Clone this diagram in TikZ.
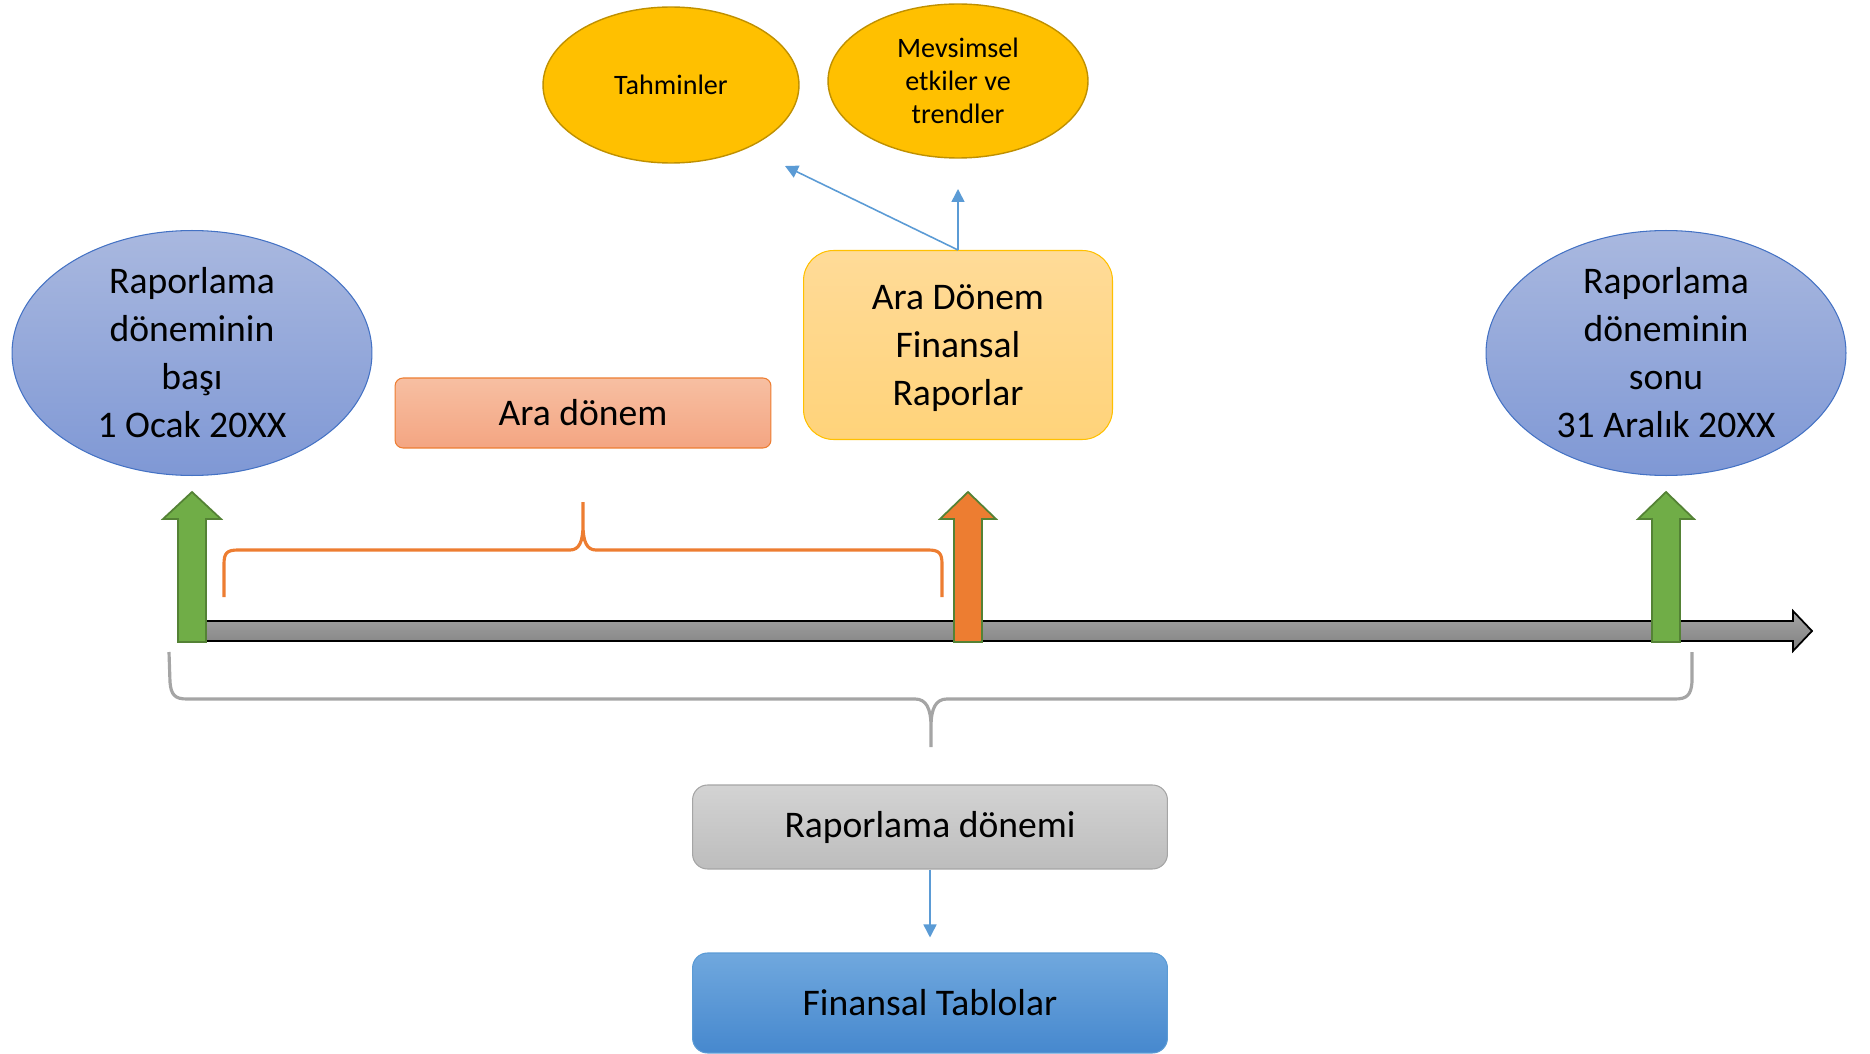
\documentclass[tikz,border=0pt]{standalone}
\usepackage{fontspec}
\setmainfont{Carlito}
\usepackage{tikz}
\usetikzlibrary{shapes.geometric,arrows.meta}

\definecolor{ovalblue}{HTML}{4472C4}
\definecolor{lineblue}{HTML}{5B9BD5}
\definecolor{gold}{HTML}{FFC000}
\definecolor{darkgold}{HTML}{BF9000}
\definecolor{peach}{HTML}{ED7D31}
\definecolor{leaf}{HTML}{70AD47}
\definecolor{darkleaf}{HTML}{548235}
\definecolor{bracegray}{HTML}{A5A5A5}

\begin{document}
\begin{tikzpicture}[x=0.02cm, y=-0.02cm,
                    bigoval/.style={ellipse, draw=ovalblue, line width=0.6pt, top color={rgb,255:red,169;green,184;blue,223}, bottom color={rgb,255:red,127;green,152;blue,213}, minimum width=7.2cm, minimum height=4.9cm, inner sep=0pt, align=center, font=\fontsize{21.4}{27.3}\selectfont},
                    smalloval/.style={ellipse, fill=gold, draw=darkgold, line width=0.8pt, minimum width=5.12cm, minimum height=3.12cm, inner sep=0pt, align=center, font=\fontsize{16}{18.8}\selectfont},
                    box/.style={rectangle, rounded corners, inner sep=0pt, align=center, line width=0.6pt, font=\fontsize{21.4}{27.3}\selectfont},
                    fleche/.style={draw=lineblue, line width=0.9pt, -{Triangle[length=0.26cm, width=0.26cm]}},
                    blockarrow/.style={line width=1pt, line join=miter},
                    brace/.style={line width=1.8pt, line join=round, line cap=butt}]

	\useasboundingbox (0,0) rectangle (1870,1054);

	\node[bigoval] (start) at (192,353) {Raporlama\\ döneminin\\ başı\\ 1 Ocak 20XX};

	\node[bigoval] (end) at (1666,353) {Raporlama\\ döneminin\\ sonu\\ 31 Aralık 20XX};

	\node[smalloval] (tahmin) at (671,85) {Tahminler};

	\node[smalloval, minimum width=5.2cm, minimum height=3.08cm] (mevsim) at (958,81) {Mevsimsel\\ etkiler ve\\ trendler};

	\node[box, draw=peach, top color={rgb,255:red,247;green,191;blue,162}, bottom color={rgb,255:red,244;green,165;blue,130}, rounded corners=0.16cm, minimum width=7.52cm, minimum height=1.4cm] (ara) at (583,413) {Ara dönem};

	\node[box, draw=gold, top color={rgb,255:red,255;green,219;blue,152}, bottom color={rgb,255:red,255;green,211;blue,122}, rounded corners=0.6cm, minimum width=6.18cm, minimum height=3.78cm] (afr) at (958,345) {\raisebox{-2pt}[\height][\depth]{\parbox{5cm}{\centering Ara Dönem\\ Finansal\\ Raporlar}}};

	\node[box, draw=bracegray, top color={rgb,255:red,211;green,211;blue,211}, bottom color={rgb,255:red,189;green,189;blue,189}, rounded corners=0.3cm, minimum width=9.5cm, minimum height=1.68cm] (donem) at (930,827) {Raporlama dönemi};

	\node[box, draw=lineblue, top color={rgb,255:red,112;green,168;blue,222}, bottom color={rgb,255:red,70;green,136;blue,206}, rounded corners=0.3cm, minimum width=9.5cm, minimum height=2cm] (tablo) at (930,1003) {Finansal Tablolar};

	\coordinate (tahtip) at (785,166);
	\coordinate (mevtip) at (958,189);

	\draw[fleche] (afr.north) -- (tahtip);
	\draw[fleche] (afr.north) -- (mevtip);
	\draw[fleche, shorten >=0.3cm] (donem.south) -- (tablo.north);

	% time line
	\draw[black, line width=1pt, line join=miter, top color={rgb,255:red,166;green,166;blue,166}, bottom color={rgb,255:red,127;green,127;blue,127}]
		(192,621) -- (1793,621) -- (1793,611) -- (1812,631) -- (1793,651) -- (1793,641) -- (192,641) -- cycle;

	% block arrows
	\filldraw[blockarrow, fill=leaf, draw=darkleaf] (178,642) -- (178,519) -- (163,519) -- (192,492) -- (221,519) -- (206,519) -- (206,642) -- cycle;
	\filldraw[blockarrow, fill=peach, draw=darkleaf] (954,642) -- (954,519) -- (940,519) -- (968,492) -- (996,519) -- (982,519) -- (982,642) -- cycle;
	\filldraw[blockarrow, fill=leaf, draw=darkleaf] (1652,642) -- (1652,519) -- (1638,519) -- (1666,492) -- (1694,519) -- (1680,519) -- (1680,642) -- cycle;

	% braces
	\draw[brace, peach] (224,597) -- (224,564) .. controls (224,553) and (227,550) .. (238,550) -- (570,550) .. controls (579,550) and (583,542) .. (583,525) -- (583,502)
		(583,525) .. controls (583,542) and (587,550) .. (596,550) -- (928,550) .. controls (939,550) and (942,553) .. (942,564) -- (942,597);
	\draw[brace, bracegray] (169,652) -- (170,682) .. controls (171,695) and (175,699) .. (187,699) -- (915,699) .. controls (926,699) and (931,708) .. (931,727) -- (931,747)
		(931,727) .. controls (931,708) and (936,699) .. (947,699) -- (1675,699) .. controls (1687,699) and (1691,695) .. (1692,682) -- (1692,652);

\end{tikzpicture}
\end{document}
